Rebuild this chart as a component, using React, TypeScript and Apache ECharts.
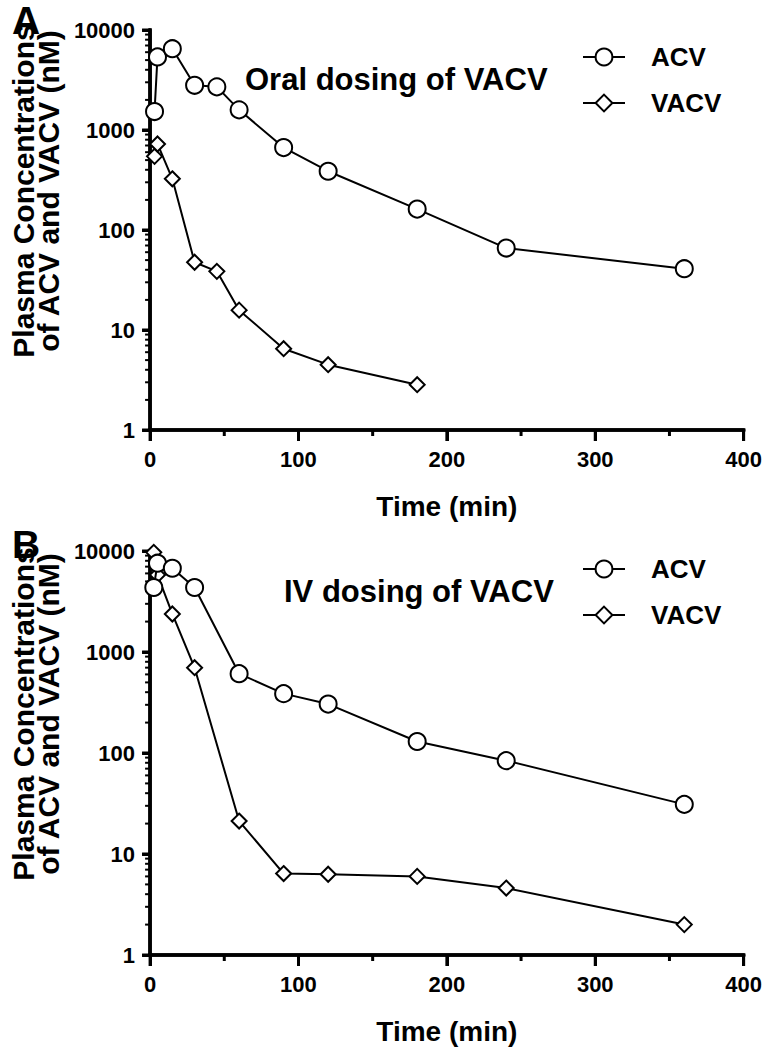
import React, { useEffect, useRef } from 'react';
import * as echarts from 'echarts';

const FONT = '"Liberation Sans", Arial, Helvetica, sans-serif';

// Panel A: oral dosing of VACV
const timeAcvA = [3, 5, 15, 30, 45, 60, 90, 120, 180, 240, 360];
const acvA = [1530, 5380, 6500, 2800, 2700, 1590, 667, 387, 162, 66, 41];
const timeVacvA = [3, 5, 15, 30, 45, 60, 90, 120, 180];
const vacvA = [545, 725, 325, 47.6, 38.6, 15.8, 6.5, 4.5, 2.84];

// Panel B: IV dosing of VACV
const timeB = [2.5, 5, 15, 30, 60, 90, 120, 180, 240, 360];
const acvB = [4350, 7570, 6750, 4350, 610, 387, 305, 130, 84, 31];
const vacvB = [9700, 5800, 2380, 699, 21.2, 6.4, 6.3, 6.0, 4.6, 2.0];

const seriesNames = ['ACV', 'VACV'];
const xAxisName = 'Time (min)';
const yAxisName = 'Plasma Concentrations\nof ACV and VACV (nM)';
const xMajorTicks = [0, 100, 200, 300, 400];
const xMinorTicks = [50, 150, 250, 350];
const yMajorTicks = [1, 10, 100, 1000, 10000];
const yMinorTicks = [
  2, 3, 4, 5, 6, 7, 8, 9,
  20, 30, 40, 50, 60, 70, 80, 90,
  200, 300, 400, 500, 600, 700, 800, 900,
  2000, 3000, 4000, 5000, 6000, 7000, 8000, 9000,
];

type PanelProps = {
  height: number;
  gridTop: number;
  letter: string;
  letterTop: number;
  title: string;
  titleX: number;
  titleTop: number;
  legendTop: number;
  acvT: number[];
  acv: number[];
  vacvT: number[];
  vacv: number[];
};

function tickSeries(data: number[][], size: number[], offset: number[]) {
  return {
    type: 'line', data, clip: false, z: 5,
    showSymbol: true, symbol: 'rect', symbolSize: size, symbolOffset: offset,
    lineStyle: { width: 0, opacity: 0 },
    itemStyle: { color: '#000', borderWidth: 0 },
  };
}

function axisLineSeries(data: number[][]) {
  return {
    type: 'line', data, clip: false, z: 5, showSymbol: false, symbol: 'none',
    lineStyle: { color: '#000', width: 3.5, cap: 'square' },
  };
}

function Panel(p: PanelProps) {
  const ref = useRef<HTMLDivElement>(null);
  useEffect(() => {
    const chart = echarts.init(ref.current as HTMLDivElement, null, { renderer: 'svg' });
    const txt = { fontFamily: FONT, fontWeight: 'bold', color: '#000' };
    chart.setOption({
      animation: false,
      title: [
        { text: p.letter, left: 12, top: p.letterTop, padding: 0, textStyle: { ...txt, fontSize: 39 } },
        { text: p.title, left: p.titleX, top: p.titleTop, padding: 0, textStyle: { ...txt, fontSize: 31 } },
      ],
      grid: { left: 133, top: p.gridTop, width: 612, height: 406 },
      xAxis: {
        type: 'value', min: 0, max: 400, interval: 100,
        name: xAxisName, nameLocation: 'middle', nameGap: 62,
        nameTextStyle: { ...txt, fontSize: 28 },
        axisLine: { show: true, onZero: false, lineStyle: { color: '#000', width: 3.5 } },
        axisTick: { show: true, length: 11, lineStyle: { color: '#000', width: 3 } },
        axisLabel: { ...txt, fontSize: 22, margin: 18 },
        splitLine: { show: false },
      },
      yAxis: {
        type: 'log', min: 1, max: 10000,
        name: yAxisName, nameLocation: 'middle', nameRotate: 90, nameGap: 81,
        nameTextStyle: { ...txt, fontSize: 30, lineHeight: 25, padding: [0, 0, 0, 78] },
        axisLine: { show: true, onZero: false, lineStyle: { color: '#000', width: 3.5 } },
        axisTick: { show: true, length: 8, lineStyle: { color: '#000', width: 3 } },
        axisLabel: { ...txt, fontSize: 22, margin: 15, formatter: (v: number) => String(Math.round(v)) },
        splitLine: { show: false },
      },
      legend: {
        data: seriesNames, orient: 'vertical', left: 582, top: p.legendTop, padding: 0,
        itemWidth: 42, itemHeight: 21, itemGap: 20,
        textStyle: { ...txt, fontSize: 26, padding: [0, 0, 0, 21] },
        selectedMode: false,
      },
      series: [
        axisLineSeries([[0, 1], [0, 10000]]),
        axisLineSeries([[0, 1], [400, 1]]),
        tickSeries(yMajorTicks.map((v) => [0, v]), [8, 3], [-4, 0]),
        tickSeries(yMinorTicks.map((v) => [0, v]), [5, 2], [-2.5, 0]),
        tickSeries(xMajorTicks.map((v) => [v, 1]), [3, 11], [0, 5.5]),
        tickSeries(xMinorTicks.map((v) => [v, 1]), [3, 6], [0, 3]),
        {
          type: 'line', name: 'VACV', z: 6,
          data: p.vacvT.map((t, j) => [t, p.vacv[j]]),
          symbol: 'diamond', symbolSize: 15,
          lineStyle: { color: '#000', width: 2 },
          itemStyle: { color: '#fff', borderColor: '#000', borderWidth: 2 },
        },
        {
          type: 'line', name: 'ACV', z: 7,
          data: p.acvT.map((t, j) => [t, p.acv[j]]),
          symbol: 'circle', symbolSize: 17,
          lineStyle: { color: '#000', width: 2 },
          itemStyle: { color: '#fff', borderColor: '#000', borderWidth: 2 },
        },
      ],
    });
    return () => chart.dispose();
  }, []);
  return <div ref={ref} style={{ width: 765, height: p.height }} />;
}

export default function App() {
  useEffect(() => {
    document.body.style.margin = '0';
  }, []);
  return (
    <div style={{ width: 765, height: 1050, background: '#fff' }}>
      <Panel height={525} gridTop={30} letter="A" letterTop={1} title="Oral dosing of VACV" titleX={245} titleTop={64}
        legendTop={44} acvT={timeAcvA} acv={acvA} vacvT={timeVacvA} vacv={vacvA} />
      <Panel height={525} gridTop={26} letter="B" letterTop={0} title="IV dosing of VACV" titleX={284} titleTop={51}
        legendTop={31} acvT={timeB} acv={acvB} vacvT={timeB} vacv={vacvB} />
    </div>
  );
}
